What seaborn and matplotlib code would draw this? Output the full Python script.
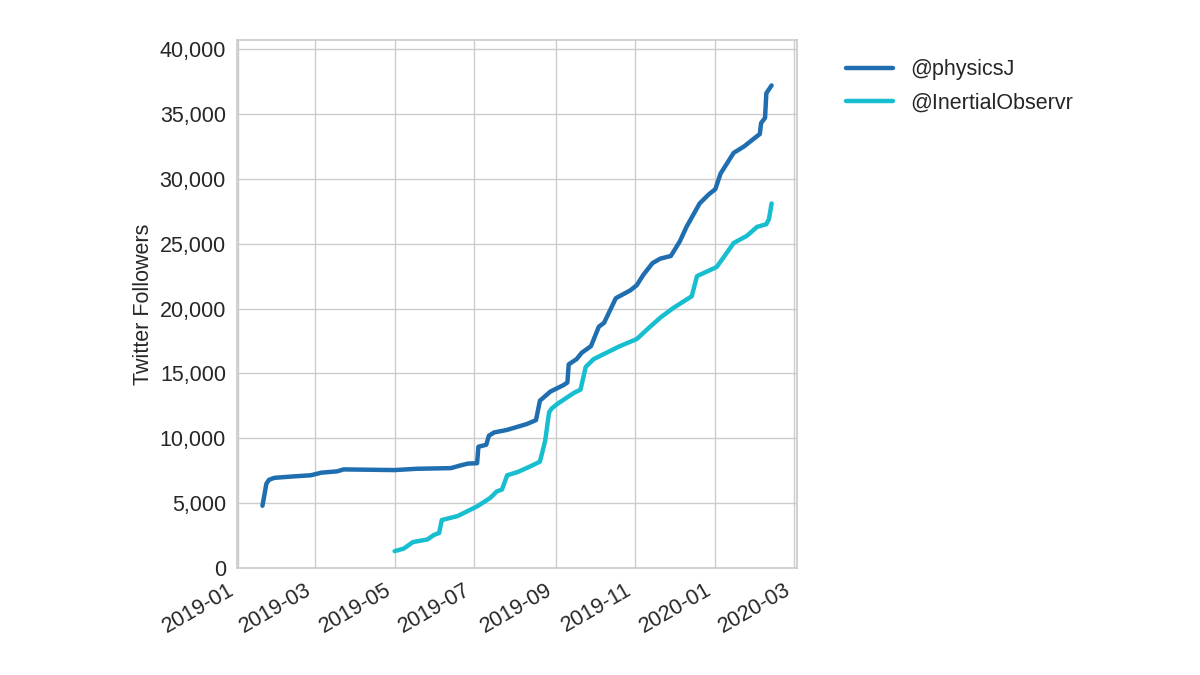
#!/usr/bin/env python3
"""Twitter follower growth for two accounts."""

import matplotlib
matplotlib.use("Agg")
import matplotlib.dates as mdates
import matplotlib.pyplot as plt
import matplotlib.ticker as mticker
import pandas as pd
import seaborn as sns

ACCOUNTS = ["@physicsJ", "@InertialObservr"]
COLORS = {"@physicsJ": "#1f6eb0", "@InertialObservr": "#17becf"}

physicsj_dates = [
    "2019-01-20", "2019-01-23", "2019-01-25", "2019-01-29", "2019-02-11",
    "2019-02-26", "2019-03-06", "2019-03-18", "2019-03-23", "2019-05-01",
    "2019-05-18", "2019-06-13", "2019-06-20", "2019-06-26", "2019-07-03",
    "2019-07-04", "2019-07-10", "2019-07-12", "2019-07-16", "2019-07-26",
    "2019-08-10", "2019-08-17", "2019-08-20", "2019-08-28", "2019-09-07",
    "2019-09-10", "2019-09-11", "2019-09-17", "2019-09-21", "2019-09-28",
    "2019-10-04", "2019-10-08", "2019-10-17", "2019-10-28", "2019-11-02",
    "2019-11-07", "2019-11-14", "2019-11-20", "2019-11-28", "2019-12-05",
    "2019-12-10", "2019-12-20", "2019-12-27", "2020-01-01", "2020-01-05",
    "2020-01-15", "2020-01-23", "2020-02-02", "2020-02-04", "2020-02-05",
    "2020-02-08", "2020-02-09", "2020-02-13",
]
physicsj_followers = [
    4800, 6500, 6800, 6950, 7050,
    7150, 7350, 7450, 7600, 7550,
    7650, 7700, 7900, 8050, 8080,
    9350, 9500, 10200, 10450, 10650,
    11100, 11400, 12900, 13600, 14100,
    14300, 15700, 16100, 16600, 17100,
    18600, 18900, 20800, 21400, 21800,
    22600, 23500, 23850, 24050, 25200,
    26300, 28100, 28800, 29200, 30400,
    32000, 32500, 33300, 33450, 34300,
    34700, 36600, 37200,
]

inertial_dates = [
    "2019-05-01", "2019-05-08", "2019-05-15", "2019-05-26", "2019-05-31",
    "2019-06-04", "2019-06-06", "2019-06-18", "2019-06-23", "2019-07-03",
    "2019-07-13", "2019-07-18", "2019-07-22", "2019-07-26", "2019-08-03",
    "2019-08-13", "2019-08-20", "2019-08-24", "2019-08-27", "2019-08-29",
    "2019-09-03", "2019-09-15", "2019-09-20", "2019-09-24", "2019-09-30",
    "2019-10-10", "2019-10-20", "2019-11-02", "2019-11-10", "2019-11-20",
    "2019-11-30", "2019-12-14", "2019-12-18", "2020-01-02", "2020-01-07",
    "2020-01-15", "2020-01-25", "2020-02-02", "2020-02-09", "2020-02-11",
    "2020-02-13",
]
inertial_followers = [
    1300, 1500, 2000, 2200, 2550,
    2700, 3700, 4000, 4250, 4750,
    5400, 5900, 6050, 7150, 7400,
    7850, 8200, 9800, 12000, 12300,
    12700, 13500, 13750, 15500, 16100,
    16600, 17100, 17650, 18400, 19300,
    20050, 20950, 22500, 23200, 23900,
    25050, 25600, 26300, 26500, 26900,
    28100,
]


def build_frame():
    a = pd.DataFrame({"date": pd.to_datetime(physicsj_dates),
                      "followers": physicsj_followers, "account": ACCOUNTS[0]})
    b = pd.DataFrame({"date": pd.to_datetime(inertial_dates),
                      "followers": inertial_followers, "account": ACCOUNTS[1]})
    return pd.concat([a, b], ignore_index=True)


def main():
    sns.set_theme(style="whitegrid")
    plt.rcParams["font.family"] = ["Liberation Sans", "DejaVu Sans"]

    df = build_frame()
    fig = plt.figure(figsize=(12, 6.75), dpi=100)
    ax = fig.add_axes([0.1975, 0.1585, 0.4667, 0.7822])

    sns.lineplot(data=df, x="date", y="followers", hue="account",
                 hue_order=ACCOUNTS, palette=COLORS, linewidth=3.2, ax=ax)

    ax.set_ylim(0, 40700)
    ax.yaxis.set_major_locator(mticker.MultipleLocator(5000))
    ax.yaxis.set_major_formatter(mticker.StrMethodFormatter("{x:,.0f}"))
    ax.xaxis.set_major_locator(mdates.MonthLocator(bymonth=[1, 3, 5, 7, 9, 11]))
    ax.xaxis.set_major_formatter(mdates.DateFormatter("%Y-%m"))
    ax.tick_params(labelsize=15.5, colors="#262626", length=0, pad=8)
    plt.setp(ax.get_xticklabels(), rotation=30, ha="right")

    ax.set_xlabel("")
    ax.set_ylabel("Twitter Followers", fontsize=15.5, color="#262626")

    sns.move_legend(ax, "upper left", bbox_to_anchor=(1.052, 1.0),
                    title=None, frameon=False, fontsize=15.5,
                    handlelength=2.2, labelspacing=0.55)
    for line in ax.get_legend().get_lines():
        line.set_linewidth(3.2)

    fig.savefig("out.png", dpi=100)
    plt.close(fig)


if __name__ == "__main__":
    main()
